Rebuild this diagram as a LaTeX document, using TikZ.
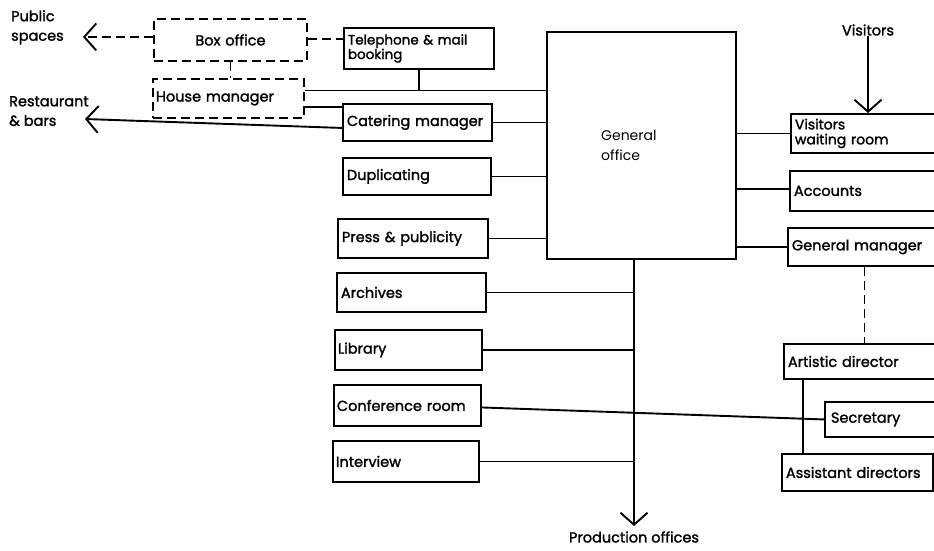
\documentclass[tikz,border=0pt]{standalone}
\usepackage{fontspec}
\setmainfont{Poppins}[FakeBold=1.6]
\newfontfamily\plainfont{Poppins}
\usetikzlibrary{arrows.meta,calc}
\begin{document}
\begin{tikzpicture}[x=1pt,y=-1pt,
  font=\fontsize{14.5}{16}\selectfont,
  box/.style={draw, line width=1.9pt, anchor=north west, align=left,
              inner xsep=4pt, inner ysep=0pt},
  dbox/.style={box, dash pattern=on 9pt off 5pt},
  link/.style={line width=1.9pt},
  dlink/.style={link, dash pattern=on 9pt off 5pt},
  tip/.style={-{Straight Barb[length=12pt,width=27pt,line width=1.9pt]}},
  lbl/.style={anchor=north west, align=left, inner sep=0pt,
              font=\fontsize{14.5}{19.5}\selectfont}]
\clip (0,0) rectangle (934,551);
\useasboundingbox (0,0) rectangle (934,551);

% free labels
\node[lbl] (pub) at (11,10) {Public\\spaces};
\node[lbl] (rest) at (9,96) {Restaurant\\\& bars};
\node[inner sep=0pt] (vis) at (868,30) {Visitors};
\node[inner sep=0pt] (prodl) at (634,537) {Production offices};

% front-of-house boxes
\node[dbox, text width=145pt, minimum height=42pt, align=center] (box) at (153,18) {Box office};
\node[box, text width=142pt, minimum height=41pt, font=\fontsize{13.5}{14.5}\selectfont] (tel) at (343,27) {Telephone \& mail\\booking};
\node[dbox, text width=145pt, minimum height=39pt, inner xsep=3pt] (house) at (152,78) {House manager};

% left column
\node[box, text width=141pt, minimum height=37pt] (cat)  at (342,103) {Catering manager};
\node[box, text width=140pt, minimum height=37pt] (dup)  at (342,157) {Duplicating};
\node[box, text width=142pt, minimum height=39pt] (press) at (337,218) {Press \& publicity};
\node[box, text width=141pt, minimum height=39pt] (arch) at (336,272) {Archives};
\node[box, text width=141pt, minimum height=40pt, inner xsep=3pt] (lib)  at (334,329) {Library};
\node[box, text width=141pt, minimum height=41pt, inner xsep=3pt] (conf) at (333,384) {Conference room};
\node[box, text width=140pt, minimum height=41pt, inner xsep=3pt] (int)  at (332,440) {Interview};

% central office
\node[draw, line width=1.9pt, anchor=north west, minimum width=189pt, minimum height=227pt] (go) at (546,31) {};
\node[lbl, font=\plainfont\fontsize{14}{20}\selectfont] (gol) at (601,130) {General\\office};

% right column
\node[box, text width=142pt, minimum height=39pt, font=\fontsize{14}{15}\selectfont] (vwr) at (790,113) {Visitors\\waiting room};
\node[box, text width=143pt, minimum height=40pt] (acc) at (789,170) {Accounts};
\node[box, text width=145pt, minimum height=38pt] (gm)  at (787,227) {General manager};
\node[box, text width=149pt, minimum height=35pt] (ad)  at (783,343) {Artistic director};
\node[box, text width=99pt,  minimum height=35pt, inner xsep=6pt] (sec) at (824,401) {Secretary};
\node[box, text width=143pt, minimum height=37pt] (asd) at (781,453) {Assistant directors};

% free ends
\coordinate (pubtip) at (83,36);
\coordinate (resttip) at (85,119);
\coordinate (prodtip) at (634,526);

% front of house links
\draw[dlink,tip] ([yshift=3pt]box.west) -- ([yshift=3pt]box.west -| pubtip);
\draw[dlink] ([yshift=1pt]box.east) -- ([yshift=1pt]box.east -| tel.west);
\draw[dlink] (box.south) -- (box.south |- house.north);
\draw[link] ([yshift=8pt]house.east) coordinate (h1) -- (h1 -| go.west);
\draw[link] (tel.south) -- (tel.south |- h1);
\draw[link] ([yshift=-8.5pt]house.east) -- ([yshift=-8.5pt]house.east -| cat.west);
\draw[link,tip] ([yshift=-5.5pt]cat.west) -- (resttip);

% left column to general office
\draw[link] (cat.east) -- (cat.east -| go.west);
\draw[link] (dup.east) -- (dup.east -| go.west);
\draw[link] (press.east) -- (press.east -| go.west);

% spine to production offices
\draw[link,tip] (go.south -| prodtip) -- (prodtip);
\draw[link] (arch.east) -- (arch.east -| prodtip);
\draw[link] (lib.east) -- (lib.east -| prodtip);
\draw[link] (int.east) -- (int.east -| prodtip);
\draw[link] ([yshift=-2pt]conf.east) -- (sec.west);

% right column to general office
\draw[link] (vwr.west -| go.east) -- (vwr.west);
\draw[link] ([yshift=2pt]acc.west -| go.east) -- ([yshift=2pt]acc.west);
\draw[link] (gm.west -| go.east) -- (gm.west);
\draw[link,tip] (vis.south) -- (vis.south |- vwr.north);
\draw[dlink] (gm.south) -- (gm.south |- ad.north);
\draw[link] ([xshift=20pt]ad.south west) -- ([xshift=20pt]ad.south west |- asd.north);
\end{tikzpicture}
\end{document}
